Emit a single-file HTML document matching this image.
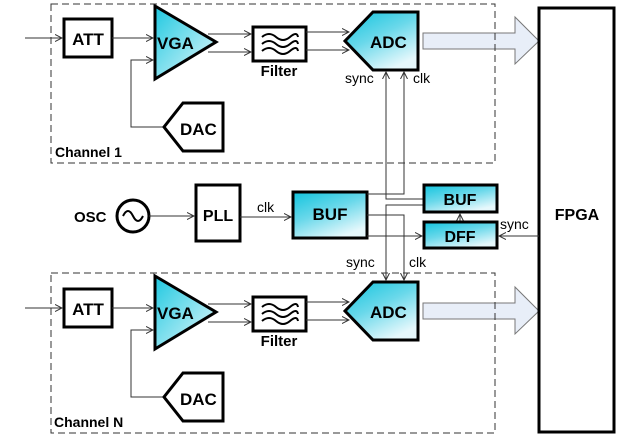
<!DOCTYPE html>
<html><head><style>body{margin:0;background:#fff}svg{display:block}text{font-family:"Liberation Sans",Arial,sans-serif}</style></head><body>
<svg width="617" height="437" viewBox="0 0 617 437" xmlns="http://www.w3.org/2000/svg">
<defs>
<linearGradient id="g" x1="0" y1="0" x2="1" y2="1"><stop offset="0" stop-color="#1ec8e0"/><stop offset="1" stop-color="#e8f8fc"/></linearGradient>
<linearGradient id="g2" x1="0" y1="0" x2="0.6" y2="1"><stop offset="0" stop-color="#12c4de"/><stop offset="0.5" stop-color="#6ad8ea"/><stop offset="1" stop-color="#e6f8fc"/></linearGradient>
<marker id="a" markerWidth="8" markerHeight="8" refX="7" refY="4" orient="auto" markerUnits="userSpaceOnUse"><path d="M0,0.5 L7,4 L0,7.5" fill="none" stroke="#333" stroke-width="1"/></marker>
<g id="ch">
<line x1="25" y1="38" x2="62" y2="38" stroke="#333" marker-end="url(#a)"/>
<rect x="64" y="19" width="48" height="38" fill="#fff" stroke="#000" stroke-width="3"/>
<text x="88" y="45" font-size="17" font-weight="bold" text-anchor="middle">ATT</text>
<line x1="112" y1="38" x2="153" y2="38" stroke="#333" marker-end="url(#a)"/>
<polygon points="155,6 216,42 155,79" fill="url(#g)" stroke="#000" stroke-width="3"/>
<text x="157" y="49" font-size="17" font-weight="bold">VGA</text>
<polyline points="163,127 131,127 131,60 153,60" fill="none" stroke="#333" marker-end="url(#a)"/>
<polygon points="183,103 223,103 223,151 183,151 164,127" fill="#fff" stroke="#000" stroke-width="3"/>
<text x="180" y="135" font-size="17" font-weight="bold">DAC</text>
<line x1="208" y1="34" x2="251" y2="34" stroke="#333" marker-end="url(#a)"/>
<line x1="208" y1="52" x2="251" y2="52" stroke="#333" marker-end="url(#a)"/>
<rect x="253" y="27" width="53" height="34" fill="#fff" stroke="#000" stroke-width="3"/>
<g fill="none" stroke="#000" stroke-width="2"><path d="M262,37 q7,-6 14,0 t14,0 t8,0"/><path d="M262,44 q7,-6 14,0 t14,0 t8,0"/><path d="M262,51 q7,-6 14,0 t14,0 t8,0"/></g>
<text x="279" y="76" font-size="15" font-weight="bold" text-anchor="middle">Filter</text>
<line x1="306" y1="32" x2="349" y2="32" stroke="#333" marker-end="url(#a)"/>
<line x1="306" y1="50" x2="349" y2="50" stroke="#333" marker-end="url(#a)"/>
<polygon points="373,12 418,12 418,70 373,70 345,41" fill="url(#g2)" stroke="#000" stroke-width="3"/>
<text x="370" y="48" font-size="17" font-weight="bold">ADC</text>
<polygon points="423,33 515,33 515,17 539,41 515,64 515,49 423,49" fill="#e8eef8" stroke="#777" stroke-width="1"/>
</g>
</defs>
<use href="#ch"/>
<use href="#ch" transform="translate(0,270)"/>
<rect x="51" y="4" width="444" height="159" fill="none" stroke="#333" stroke-dasharray="7,4"/>
<rect x="51" y="273" width="444" height="160" fill="none" stroke="#333" stroke-dasharray="7,4"/>
<text x="55" y="157" font-size="14" font-weight="bold">Channel 1</text>
<text x="54" y="427" font-size="14" font-weight="bold">Channel N</text>
<rect x="539" y="8" width="75" height="424" fill="#fff" stroke="#000" stroke-width="3"/>
<text x="577" y="220" font-size="16" font-weight="bold" text-anchor="middle">FPGA</text>
<text x="74" y="222" font-size="15" font-weight="bold">OSC</text>
<circle cx="133" cy="216" r="16" fill="#fff" stroke="#000" stroke-width="3"/>
<path d="M123,216 q5,-10 10,0 t10,0" fill="none" stroke="#000" stroke-width="2"/>
<line x1="149" y1="216" x2="194" y2="216" stroke="#333" marker-end="url(#a)"/>
<rect x="196" y="185" width="44" height="56" fill="#fff" stroke="#000" stroke-width="3"/>
<text x="218" y="221" font-size="16" font-weight="bold" text-anchor="middle">PLL</text>
<line x1="240" y1="217" x2="291" y2="217" stroke="#333" marker-end="url(#a)"/>
<text x="257" y="212" font-size="14">clk</text>
<rect x="293" y="192" width="74" height="46" fill="url(#g2)" stroke="#000" stroke-width="3"/>
<text x="330" y="220" font-size="17" font-weight="bold" text-anchor="middle">BUF</text>
<g fill="none" stroke="#333">
<polyline points="367,194 404,194 404,72" marker-end="url(#a)"/>
<polyline points="424,199 386,199 386,72" marker-end="url(#a)"/>
<polyline points="424,205 386,205 386,280" marker-end="url(#a)"/>
<polyline points="367,215 404,215 404,280" marker-end="url(#a)"/>
<line x1="367" y1="236" x2="422" y2="236" marker-end="url(#a)"/>
<line x1="460" y1="221" x2="460" y2="214" marker-end="url(#a)"/>
<line x1="539" y1="236" x2="499" y2="236" marker-end="url(#a)"/>
</g>
<rect x="424" y="185" width="73" height="27" fill="url(#g2)" stroke="#000" stroke-width="3"/>
<text x="460" y="205" font-size="16" font-weight="bold" text-anchor="middle">BUF</text>
<rect x="424" y="222" width="73" height="26" fill="url(#g2)" stroke="#000" stroke-width="3"/>
<text x="460" y="242" font-size="16" font-weight="bold" text-anchor="middle">DFF</text>
<text x="345" y="83" font-size="14">sync</text>
<text x="413" y="83" font-size="14">clk</text>
<text x="346" y="267" font-size="14">sync</text>
<text x="409" y="267" font-size="14">clk</text>
<text x="500" y="229" font-size="14">sync</text>
</svg>
</body></html>
